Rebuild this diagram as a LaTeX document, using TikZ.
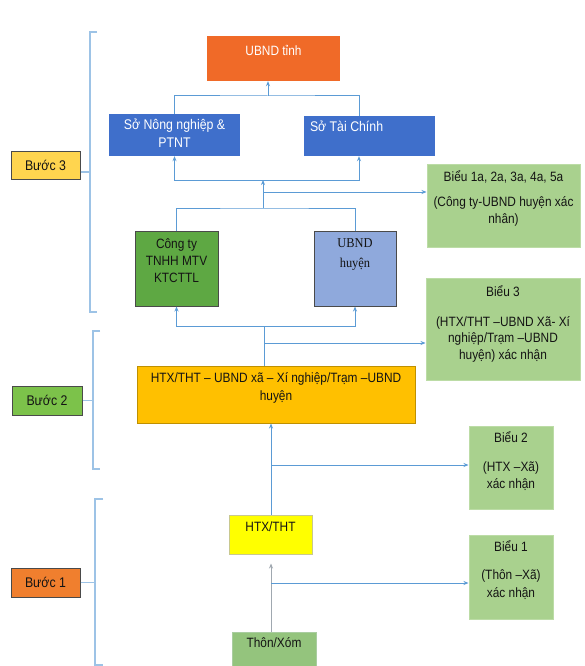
\documentclass[tikz,border=0pt]{standalone}
\usepackage{fontspec}
\setmainfont{Liberation Sans}[FakeStretch=0.88]
\newfontfamily\serifnarrow{Liberation Serif}[FakeStretch=0.92]
\usetikzlibrary{arrows.meta}
\definecolor{cOrange}{HTML}{F06A28}
\definecolor{cBlue}{HTML}{3F6FCB}
\definecolor{cGold}{HTML}{FFD54F}
\definecolor{cGreenB}{HTML}{7CC24A}
\definecolor{cOrangeB}{HTML}{F07F2E}
\definecolor{cDark}{HTML}{4A4A4A}
\definecolor{cCongty}{HTML}{5EA843}
\definecolor{cHuyen}{HTML}{8FA9DC}
\definecolor{cAmber}{HTML}{FFC000}
\definecolor{cAmberD}{HTML}{BF9000}
\definecolor{cYellow}{HTML}{FFFF00}
\definecolor{cYellowD}{HTML}{C8C890}
\definecolor{cThon}{HTML}{94C47D}
\definecolor{cThonD}{HTML}{A9CDA0}
\definecolor{cBieu}{HTML}{A9D18E}
\definecolor{cBieuD}{HTML}{BCDCA6}
\definecolor{cLine}{HTML}{5B9BD5}
\definecolor{cBrk}{HTML}{9DC3E6}
\definecolor{cGrayA}{HTML}{A0A8B0}
\definecolor{cText}{HTML}{141414}
% \tb{height}{width}{align}{toppad}{content}
\newcommand\tb[5]{\parbox[c][#1pt][t]{#2pt}{#3\vspace*{#4pt}\rule{0pt}{14pt}#5\par}}
\tikzset{
  box/.style={inner sep=0pt, anchor=center, text=cText, font=\fontsize{13.5}{17}\selectfont},
  conn/.style={draw=cLine, line width=1pt},
  tip/.style={-{Stealth[length=5pt,width=4pt]}},
  brk/.style={draw=cBrk, line width=1.1pt},
}
\begin{document}
\begin{tikzpicture}[x=1pt,y=-1pt]
\useasboundingbox[fill=white] (0,0) rectangle (584,666);

% boxes
\node[box, fill=cOrange, text=white] (ubndt) at (273.5,58.5)
  {\tb{45}{133}{\centering}{6}{UBND tỉnh}};
\node[box, fill=cBlue, text=white, font=\fontsize{14}{18}\selectfont] (sonn) at (174.5,135)
  {\tb{42}{131}{\centering}{1}{Sở Nông nghiệp \&\\PTNT}};
\node[box, fill=cBlue, text=white, font=\fontsize{14}{18}\selectfont] (sotc) at (369.5,136)
  {\tb{40}{131}{\raggedright}{2}{\hspace*{6pt}Sở Tài Chính}};
\node[box, fill=cGold, draw=cDark, line width=1pt, minimum width=69pt, minimum height=28pt, font=\fontsize{14}{16}\selectfont] (buoc3) at (45.5,165) {Bước 3};
\node[box, fill=cBieu, draw=cBieuD, line width=1pt] (bieu1a) at (503.5,205.5)
  {\tb{83}{153}{\centering}{3}{Biểu 1a, 2a, 3a, 4a, 5a\\[8pt](Công ty-UBND huyện xác\\nhân)}};
\node[box, fill=cCongty, draw=cDark, line width=1pt] (congty) at (176.5,268.5)
  {\tb{75}{83}{\centering}{3}{Công ty\\TNHH MTV\\KTCTTL}};
\node[box, fill=cHuyen, draw=cDark, line width=1pt, font=\serifnarrow\fontsize{13.5}{20}\selectfont] (ubndh) at (355,268.5)
  {\tb{75}{82}{\centering}{2}{UBND\\huyện}};
\node[box, fill=cBieu, draw=cBieuD, line width=1pt, font=\fontsize{13.5}{16.5}\selectfont] (bieu3) at (503,329)
  {\tb{102}{154}{\centering}{4}{Biểu 3\\[13.5pt](HTX/THT –UBND Xã- Xí\\nghiệp/Trạm –UBND\\huyện) xác nhận}};
\node[box, fill=cGreenB, draw=cDark, line width=1pt, minimum width=70pt, minimum height=29pt, font=\fontsize{14}{16}\selectfont] (buoc2) at (47,400.5) {Bước 2};
\node[box, fill=cAmber, draw=cAmberD, line width=1pt, font=\fontsize{13.5}{18}\selectfont] (htxxa) at (276,394.5)
  {\tb{57}{278}{\centering}{2}{HTX/THT – UBND xã – Xí nghiệp/Trạm –UBND\\huyện}};
\node[box, fill=cBieu, draw=cBieuD, line width=1pt] (bieu2) at (511,467.5)
  {\tb{83}{84}{\centering}{2}{Biểu 2\\[12pt](HTX –Xã)\\xác nhận}};
\node[box, fill=cYellow, draw=cYellowD, line width=1pt] (htxtht) at (270.5,534.5)
  {\tb{39}{83}{\centering}{2}{HTX/THT}};
\node[box, fill=cBieu, draw=cBieuD, line width=1pt, font=\fontsize{13.5}{18}\selectfont] (bieu1) at (511,577)
  {\tb{84}{84}{\centering}{2}{Biểu 1\\[10pt](Thôn –Xã)\\xác nhận}};
\node[box, fill=cOrangeB, draw=cDark, line width=1pt, minimum width=69pt, minimum height=29pt, font=\fontsize{14}{16}\selectfont] (buoc1) at (45.5,582.5) {Bước 1};
\node[box, fill=cThon, draw=cThonD, line width=1pt] (thon) at (274,654)
  {\tb{44}{84}{\centering}{1}{Thôn/Xóm}};

% named coordinates
\coordinate (xr) at (359,0);
\coordinate (j1) at (268,96);
\coordinate (j2) at (263,180);
\coordinate (j4) at (263,192);
\coordinate (j3) at (263,208);
\coordinate (j5) at (264,326);
\coordinate (j6) at (264,343);
\coordinate (j7) at (271,465);
\coordinate (j8) at (271,583);

% level: UBND tinh
\draw[conn] (sonn.north) |- (j1) -| (sotc.north -| xr);
\draw[conn,tip] (j1) -- (ubndt.south -| j1);
% level: So
\draw[conn,tip] (j2) -| (sonn.south);
\draw[conn,tip] (j2) -| (sotc.south -| xr);
\draw[conn,tip] (j3) -- (j2);
\draw[conn,tip] (j4) -- (bieu1a.west |- j4);
\draw[conn] (congty.north) |- (j3) -| (ubndh.north);
% level: Cong ty / UBND huyen
\draw[conn,tip] (j5) -| (congty.south);
\draw[conn,tip] (j5) -| (ubndh.south);
\draw[conn] (htxxa.north -| j5) -- (j5);
\draw[conn,tip] (j6) -- (bieu3.west |- j6);
% level: HTX xa
\draw[conn,tip] (htxtht.north -| j7) -- (htxxa.south -| j7);
\draw[conn,tip] (j7) -- (bieu2.west |- j7);
% level: HTX/THT
\draw[draw=cGrayA, line width=1pt, tip, shorten >=9pt] (thon.north -| j8) -- (htxtht.south -| j8);
\draw[conn,tip] (j8) -- (bieu1.west |- j8);

% brackets
\coordinate (b3a) at (90,32);
\coordinate (b3b) at (90,312);
\coordinate (b2a) at (93,331);
\coordinate (b2b) at (93,469);
\coordinate (b1a) at (95,499);
\coordinate (b1b) at (95,665);
\draw[brk] ([xshift=7pt]b3a) -- (b3a) -- (b3b) -- ([xshift=7pt]b3b);
\draw[brk] ([xshift=7pt]b2a) -- (b2a) -- (b2b) -- ([xshift=7pt]b2b);
\draw[brk] ([xshift=8pt]b1a) -- (b1a) -- (b1b) -- ([xshift=8pt]b1b);
\draw[brk] (buoc3.east |- 0,172) -- (b3a |- 0,172);
\draw[brk] (buoc2.east) -- (buoc2.east -| b2a);
\draw[brk] (buoc1.east) -- (buoc1.east -| b1a);
\end{tikzpicture}
\end{document}
